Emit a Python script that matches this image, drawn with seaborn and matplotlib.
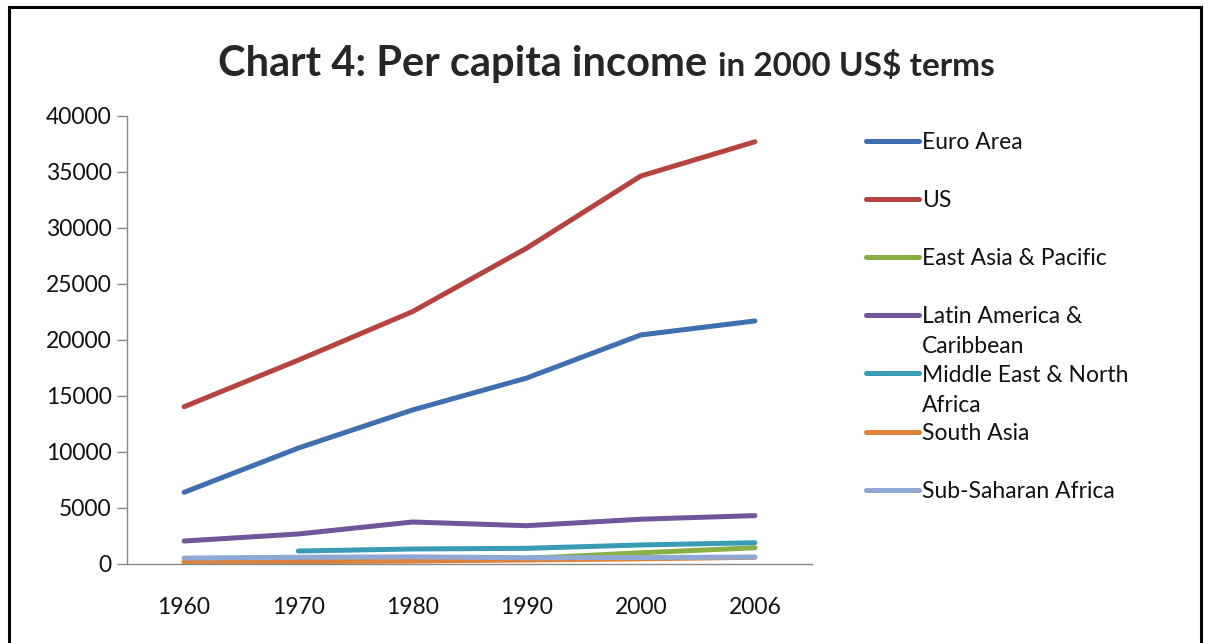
import numpy as np
import pandas as pd
import seaborn as sns
import matplotlib.pyplot as plt
from matplotlib.patches import Rectangle

# categories on the x axis (Excel-style category axis)
years = ['1960', '1970', '1980', '1990', '2000', '2006']

# per capita income, 2000 US$
euro_area = [6400, 10350, 13750, 16600, 20450, 21700]
us = [14040, 18200, 22530, 28200, 34640, 37700]
east_asia = [150, 200, 300, 500, 1000, 1450]
latin_america = [2050, 2680, 3750, 3420, 4000, 4320]
mena = [np.nan, 1160, 1340, 1400, 1700, 1900]
south_asia = [200, 240, 270, 360, 460, 600]
ss_africa = [530, 600, 640, 560, 580, 620]

regions = ['Euro Area', 'US', 'East Asia & Pacific', 'Latin America &',
           'Middle East & North', 'South Asia', 'Sub-Saharan Africa']
second_lines = {3: 'Caribbean', 4: 'Africa'}
colors = ['#3F6FB0', '#B5443E', '#88AE45', '#71579A', '#3A9BB5', '#E0823A', '#8FA9D4']

series = [euro_area, us, east_asia, latin_america, mena, south_asia, ss_africa]
rows = []
for name, vals in zip(regions, series):
    for i, v in enumerate(vals):
        rows.append({'pos': i, 'region': name, 'income': v})
df = pd.DataFrame(rows).dropna()

sns.set_style('white')
plt.rcParams['font.family'] = ['Lato', 'DejaVu Sans']

fig = plt.figure(figsize=(12.09, 6.43), dpi=100)
ax = fig.add_axes([127 / 1209, 1 - 564 / 643, (812 - 127) / 1209, (564 - 116) / 643])

sns.lineplot(data=df, x='pos', y='income', hue='region', hue_order=regions,
             palette=dict(zip(regions, colors)), linewidth=3.6, ax=ax,
             legend=False, solid_capstyle='round')

# axes styling
ax.set_xlim(-0.5, len(years) - 0.5)
ax.set_ylim(0, 40000)
ax.set_yticks(range(0, 40001, 5000))
ax.set_xticks(range(len(years)))
ax.set_xticklabels(years)
ax.set_xticks(np.arange(-0.5, len(years), 1.0), minor=True)
ax.tick_params(axis='x', which='major', length=0, pad=24, labelsize=16.5, labelcolor='#111111')
ax.tick_params(axis='x', which='minor', length=7, width=1, color='#888888', direction='out')
ax.tick_params(axis='y', length=7, width=1, color='#888888', direction='out',
               pad=4, labelsize=16.5, labelcolor='#111111', left=True)
ax.set_xlabel('')
ax.set_ylabel('')
for side in ['top', 'right']:
    ax.spines[side].set_visible(False)
for side in ['left', 'bottom']:
    ax.spines[side].set_color('#888888')
    ax.spines[side].set_linewidth(1)

# legend
leg = ax.legend(handles=ax.lines[:len(regions)], labels=regions, frameon=False,
                loc='upper left', bbox_to_anchor=(866 / 1209, 1 - 132 / 643),
                bbox_transform=fig.transFigure, borderaxespad=0, borderpad=0,
                fontsize=16.5, handlelength=2.3, handletextpad=0.15, labelspacing=1.62)
for t in leg.get_texts():
    t.set_color('#111111')

# title in two sizes
t1 = fig.text(218 / 1209, 1 - 76 / 643, 'Chart 4: Per capita income', fontsize=30,
              fontweight='bold', ha='left', va='baseline')
fig.canvas.draw()
bb = t1.get_window_extent()
fig.text((bb.x1 + 11) / 1209, 1 - 76 / 643, 'in 2000 US$ terms', fontsize=24,
         fontweight='bold', ha='left', va='baseline')

# continuation lines of wrapped legend labels
for idx, extra in second_lines.items():
    tb = leg.get_texts()[idx].get_window_extent()
    fig.text(tb.x0 / 1209, (tb.y0 - 30) / 643, extra, fontsize=16.5, color='#111111',
             ha='left', va='bottom')

# outer frame
fig.patches.append(Rectangle((9 / 1209, -0.1), 1192 / 1209, 1.1 - 7.5 / 643,
                             transform=fig.transFigure, fill=False,
                             edgecolor='black', linewidth=2.2))

fig.savefig('out.png', dpi=100)
